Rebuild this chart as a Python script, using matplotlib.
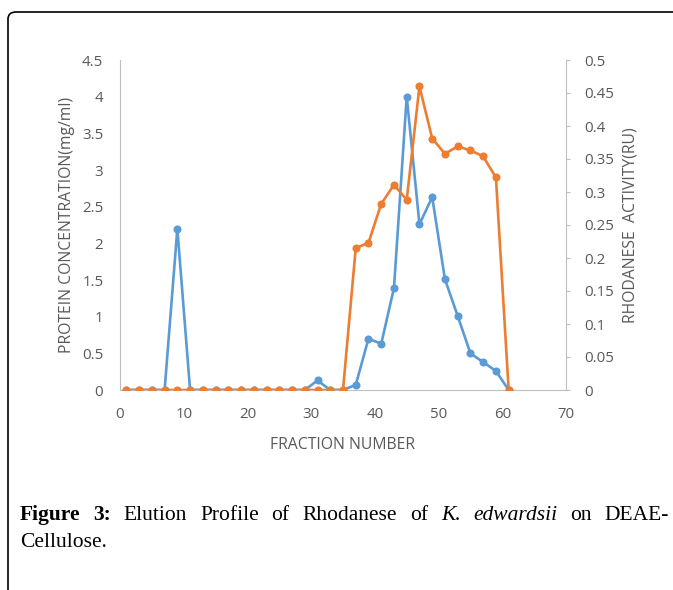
import matplotlib
matplotlib.use("Agg")
import matplotlib.pyplot as plt
from matplotlib.patches import FancyBboxPatch

# Fraction numbers (odd fractions collected)
fraction = [1, 3, 5, 7, 9, 11, 13, 15, 17, 19, 21, 23, 25, 27, 29, 31,
            33, 35, 37, 39, 41, 43, 45, 47, 49, 51, 53, 55, 57, 59, 61]

# Protein concentration (mg/ml) - left axis
protein = [0, 0, 0, 0, 2.2, 0, 0, 0, 0, 0, 0, 0, 0, 0, 0, 0.13,
           0, 0, 0.07, 0.70, 0.63, 1.39, 4.0, 2.26, 2.63, 1.51, 1.01, 0.50, 0.38, 0.26, 0]

# Rhodanese activity (RU) - right axis
activity = [0, 0, 0, 0, 0, 0, 0, 0, 0, 0, 0, 0, 0, 0, 0, 0,
            0, 0, 0.215, 0.223, 0.282, 0.311, 0.288, 0.46, 0.381, 0.358, 0.369, 0.363, 0.354, 0.322, 0]

BLUE = "#5B9BD5"
ORANGE = "#ED7D31"
GREY = "#595959"
AXIS_GREY = "#BFBFBF"

plt.rcParams["font.family"] = ["Open Sans", "DejaVu Sans"]

W, H = 673, 590
fig = plt.figure(figsize=(W / 100, H / 100), dpi=100)

ax = fig.add_axes([120 / W, 1 - 390 / H, (566 - 120) / W, (390 - 60) / H])
ax2 = ax.twinx()

ax.plot(fraction, protein, color=BLUE, lw=1.9, marker="o", ms=4.8, zorder=3)
ax2.plot(fraction, activity, color=ORANGE, lw=1.9, marker="o", ms=4.8, zorder=3)

ax.set_xlim(0, 70)
ax.set_ylim(0, 4.5)
ax2.set_ylim(0, 0.5)
ax.set_xticks(range(0, 71, 10))
ax.set_yticks([0, 0.5, 1, 1.5, 2, 2.5, 3, 3.5, 4, 4.5])
ax.set_yticklabels(["0", "0.5", "1", "1.5", "2", "2.5", "3", "3.5", "4", "4.5"])
ax2.set_yticks([0, 0.05, 0.1, 0.15, 0.2, 0.25, 0.3, 0.35, 0.4, 0.45, 0.5])
ax2.set_yticklabels(["0", "0.05", "0.1", "0.15", "0.2", "0.25", "0.3", "0.35",
                     "0.4", "0.45", "0.5"])

for a in (ax, ax2):
    for s in a.spines.values():
        s.set_visible(False)
ax.spines["left"].set_visible(True)
ax.spines["bottom"].set_visible(True)
ax2.spines["right"].set_visible(True)
ax.spines["left"].set_color(AXIS_GREY)
ax.spines["bottom"].set_color(AXIS_GREY)
ax2.spines["right"].set_color(AXIS_GREY)

ax.tick_params(axis="both", length=0, pad=12, labelsize=10.8, labelcolor=GREY)
ax2.tick_params(axis="y", length=3, width=0.8, color=AXIS_GREY, direction="out",
                pad=10, labelsize=10.8, labelcolor=GREY)

ax.set_xlabel("FRACTION NUMBER", fontsize=11.3, color=GREY, labelpad=11)
ax.set_ylabel("PROTEIN CONCENTRATION(mg/ml)", fontsize=11.3, color=GREY, labelpad=5)
ax2.set_ylabel("RHODANESE  ACTIVITY(RU)", fontsize=11.3, color=GREY, labelpad=6)

# frame around the figure (open at right and bottom)
frame = FancyBboxPatch((8 / W, -0.2), 1.2, 1 - 12 / H + 0.2,
                       boxstyle="round,pad=0,rounding_size=0.012",
                       transform=fig.transFigure, fill=False,
                       edgecolor="black", lw=1.2)
fig.patches.append(frame)

# justified caption
serif = ["Liberation Serif", "DejaVu Serif"]
line1 = [("Figure", "bold", "normal"), ("3:", "bold", "normal"),
         ("Elution", "normal", "normal"), ("Profile", "normal", "normal"),
         ("of", "normal", "normal"), ("Rhodanese", "normal", "normal"),
         ("of", "normal", "normal"), ("K.", "normal", "italic"),
         ("edwardsii", "normal", "italic"), ("on", "normal", "normal"),
         ("DEAE-", "normal", "normal")]
renderer = fig.canvas.get_renderer()
texts = []
for word, weight, style in line1:
    t = fig.text(0, 1 - 520 / H, word, fontsize=15.5, family=serif,
                 weight=weight, style=style, color="black")
    texts.append(t)
widths = [t.get_window_extent(renderer).width for t in texts]
x0, x1 = 20, 669
gap = (x1 - x0 - sum(widths)) / (len(texts) - 1)
x = x0
for t, w in zip(texts, widths):
    t.set_x(x / W)
    x += w + gap
fig.text(20 / W, 1 - 547 / H, "Cellulose.", fontsize=15.5, family=serif,
         color="black")

fig.savefig("out.png", dpi=100)
